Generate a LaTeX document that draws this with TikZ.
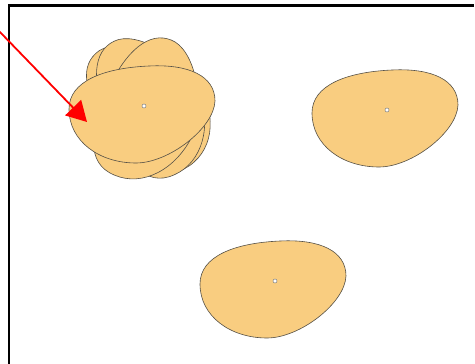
\documentclass[tikz,border=0pt]{standalone}
\usetikzlibrary{arrows.meta}
\definecolor{eggfill}{RGB}{249,205,128}
\definecolor{eggline}{RGB}{85,80,70}
\tikzset{
  eggshape/.style={fill=eggfill, draw=eggline, line width=0.6pt},
  centerdot/.style={circle, inner sep=0pt, minimum size=4pt, fill=white, draw=gray, line width=0.5pt},
  framebar/.style={line width=2.2pt, black},
  redarrow/.style={draw=red, line width=1.8pt, -{Triangle[length=20pt,width=22pt]}}
}
\newcommand\eggoutline{(-75,3) .. controls (-75,-25) and (-40,-38) .. (5,-40)
 .. controls (45,-42) and (71,-30) .. (71,-5)
 .. controls (70,22) and (25,57) .. (-8,57)
 .. controls (-45,57) and (-75,35) .. cycle}
\begin{document}
\begin{tikzpicture}[x=1pt,y=-1pt]
\useasboundingbox (0,0) rectangle (475,364);
\fill[white] (0,0) rectangle (475,364);
% frame
\draw[framebar] (9,364) -- (9,5.5) -- (474,5.5);
% rotating cluster (back copies)
\foreach \ang in {125,107,60}{
  \begin{scope}[shift={(144,106)}, rotate=\ang]
    \path[eggshape] \eggoutline;
  \end{scope}
}
\begin{scope}[shift={(144,106)}]
  \path[eggshape] \eggoutline;
\end{scope}
\node[centerdot] (c1) at (144,106) {};
% right egg
\begin{scope}[shift={(387,110)}]
  \path[eggshape] \eggoutline;
\end{scope}
\node[centerdot] (c2) at (387,110) {};
% bottom egg
\begin{scope}[shift={(275,281)}]
  \path[eggshape] \eggoutline;
\end{scope}
\node[centerdot] (c3) at (275,281) {};
% arrow
\coordinate (astart) at (-2,30);
\coordinate (aend) at (87,122);
\draw[redarrow] (astart) -- (aend);
\end{tikzpicture}
\end{document}
